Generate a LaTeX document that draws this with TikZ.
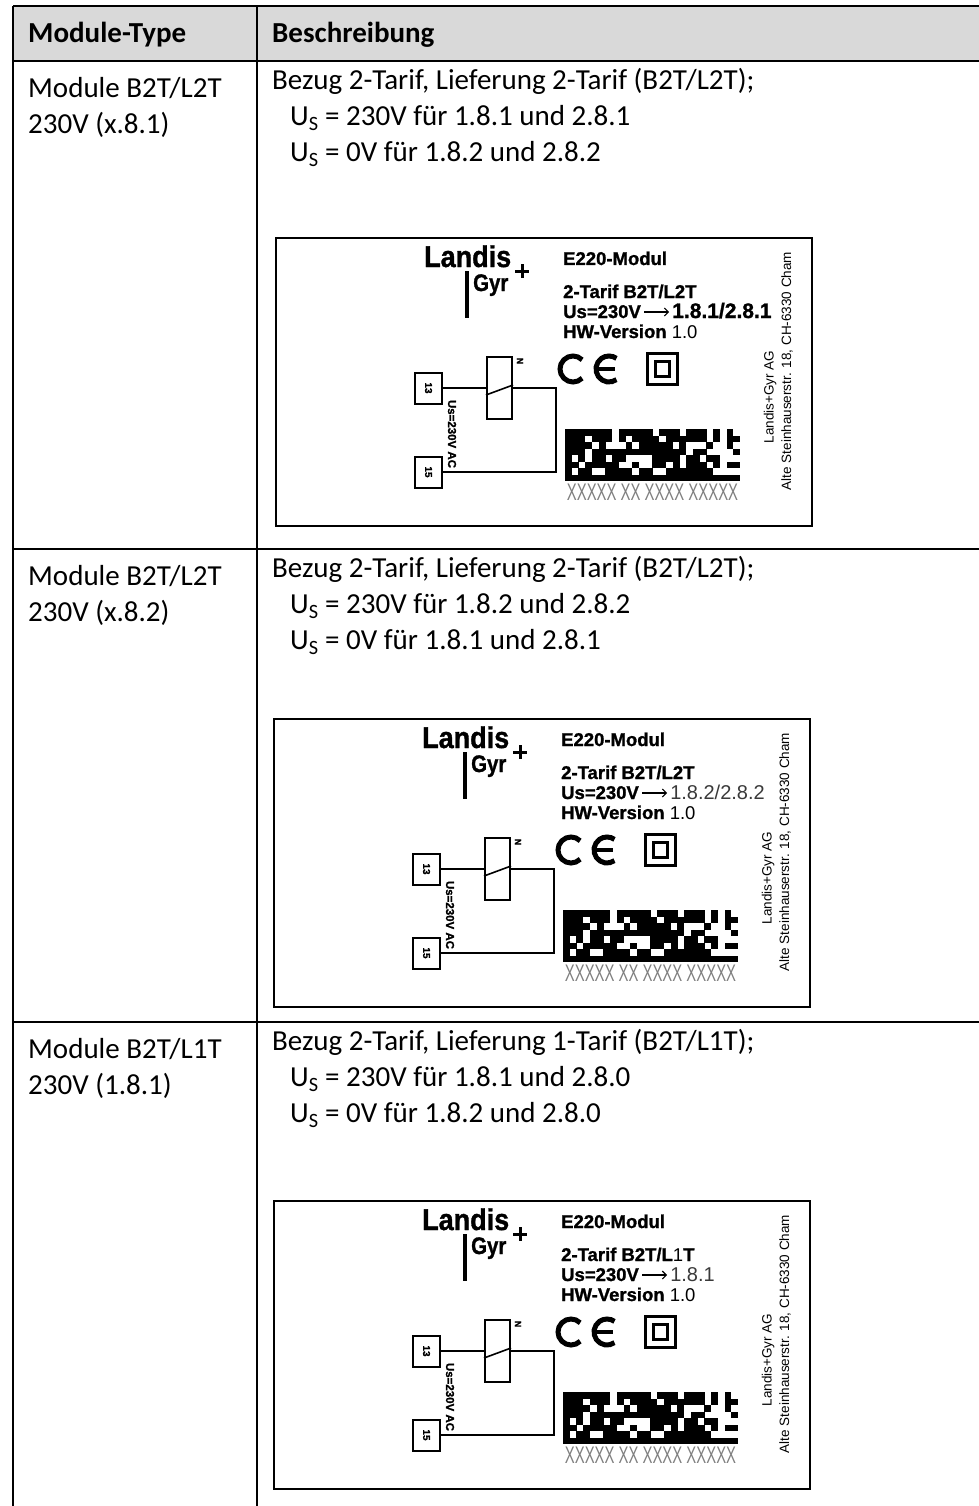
\documentclass[tikz,border=0pt]{standalone}
\usepackage{fontspec}
\setmainfont{Carlito}
\newfontfamily\labelfont{Liberation Sans}[BoldFeatures={FakeBold=1.2}]
\usetikzlibrary{positioning,arrows.meta}

\definecolor{headgray}{HTML}{D9D9D9}
\definecolor{valgray}{HTML}{3A3A3A}

\tikzset{
  tableline/.style={line width=1.5pt},
  celltext/.style={anchor=base west, inner sep=0pt, font=\fontsize{29}{34}\selectfont},
  headtext/.style={anchor=base west, inner sep=0pt, font=\fontsize{29}{34}\selectfont\bfseries},
  cardline/.style={line width=2.5pt},
  wire/.style={line width=1.6pt},
  terminal/.style={draw, line width=2pt, minimum width=27pt, minimum height=31pt, inner sep=0pt,
    font=\labelfont\bfseries\fontsize{10}{10}\selectfont},
  coilbox/.style={draw, line width=2pt, minimum width=25pt, minimum height=62pt, inner sep=0pt},
  cardtext/.style={anchor=base west, inner sep=0pt, font=\labelfont\bfseries\fontsize{18.5}{18.5}\selectfont},
  sidetext/.style={rotate=90, inner sep=0pt, font=\labelfont\fontsize{13.5}{13.5}\selectfont},
  maps/.style={line width=1.1pt, -{Straight Barb[length=4pt, width=8pt, line width=1.1pt]}},
}

\newcommand{\typecard}[4]{%
\begin{scope}[shift={(#1)}, name prefix=#2-]
  \draw[cardline] (0,0) rectangle (536,288);
  \node[anchor=base west, inner sep=0pt, xscale=0.9, font=\labelfont\bfseries\fontsize{30}{30}\selectfont] (landis) at (148,29) {Landis};
  \node[anchor=base west, inner sep=0pt, xscale=0.85, font=\labelfont\bfseries\fontsize{24}{24}\selectfont] (gyr) at (197,53) {Gyr};
  \draw[line width=4pt] (191,33) -- (191,80);
  \draw[line width=3pt] (239,33) -- (253,33) (246,26) -- (246,40);
  \node[terminal] (t13) at (152.5,150) {\rotatebox{-90}{13}};
  \node[terminal] (t15) at (152.5,234) {\rotatebox{-90}{15}};
  \node[coilbox] (coil) at (223.5,150) {};
  \draw[wire] ([yshift=-7pt]coil.west) -- ([yshift=3pt]coil.east);
  \node[rotate=-90, inner sep=0pt, font=\labelfont\bfseries\fontsize{9}{9}\selectfont] (n) at (244,123) {N};
  \coordinate (jn) at (280,190);
  \draw[wire] (t13.east) -- (coil.west);
  \draw[wire] (coil.east) -| (jn) |- (t15.east);
  \node[rotate=-90, inner sep=0pt, font=\labelfont\bfseries\fontsize{11.5}{11.5}\selectfont] (usac) at (176,196) {Us=230V AC};
  \node[cardtext] (modul) at (287,27) {E220-Modul};
  \node[cardtext] (tarif) at (287,60) {2-Tarif #3};
  \node[cardtext] (us) at (287,80) {Us=230V};
  \node[cardtext, right=31pt of us.base east, anchor=base west] (target) {#4};
  \draw[maps] ([xshift=3pt, yshift=6pt]us.base east) -- ([xshift=-3pt, yshift=6pt]target.base west);
  \node[cardtext] (hw) at (287,100) {HW-Version {\mdseries 1.0}};
  \draw[line width=5pt] (297,131) ++(45:13) arc[start angle=45, end angle=315, radius=13];
  \draw[line width=5pt] (333,131) ++(55:13) arc[start angle=55, end angle=305, radius=13];
  \draw[line width=4pt] (320,131) -- (339,131);
  \draw[line width=3pt] (371,115) rectangle (401,146);
  \draw[line width=3pt] (379,123) rectangle (393,138);
  \pgfmathsetseed{11}
  \foreach \i in {0,...,25}{
    \foreach \j in {0,...,7}{
      \pgfmathrandominteger{\bit}{0}{99}
      \pgfmathtruncatemacro{\dm}{(\j==7)||(\i==0)||((\j==0)&&(mod(\i,2)==0))||((\i==25)&&(mod(\j,2)==1))||(\bit<68)}
      \ifnum\dm=1 \fill (289+\i*6.73,191+\j*6.5) rectangle ++(6.9,6.7);\fi
    }}
  \node[inner sep=0pt, xscale=0.62, text=gray, font=\labelfont\fontsize{24}{24}\selectfont] (serial) at (376.5,254) {XXXXX XX XXXX XXXXX};
  \node[sidetext] (firm) at (494,159) {Landis+Gyr AG};
  \node[sidetext] (addr) at (511,133) {Alte Steinhauserstr. 18, CH-6330 Cham};
\end{scope}}

\begin{document}
\begin{tikzpicture}[x=1pt, y=-1pt]
  \useasboundingbox (0,0) rectangle (979,1506);
  \fill[headgray] (13,6) rectangle (979,61);
  \draw[tableline] (13,6) -- (979,6) (13,61) -- (979,61) (13,549) -- (979,549) (13,1022) -- (979,1022);
  \draw[tableline] (13,6) -- (13,1506) (257,6) -- (257,1506);

  \node[headtext] (htype) at (28,43) {Module-Type};
  \node[headtext] (hdesc) at (272,43) {Beschreibung};

  \node[celltext] (type1) at (28,97.5) {Module B2T/L2T};
  \node[celltext] (volt1) at (28,133.5) {230V (x.8.1)};
  \node[celltext] (desc1) at (272,90) {Bezug 2-Tarif, Lieferung 2-Tarif (B2T/L2T);};
  \node[celltext] (on1) at (290,126) {U\textsubscript{S} = 230V für 1.8.1 und 2.8.1};
  \node[celltext] (off1) at (290,162) {U\textsubscript{S} = 0V für 1.8.2 und 2.8.2};
  \typecard{276,238}{r1}{B2T/L2T}{{\fontsize{21}{21}\selectfont 1.8.1/2.8.1}}

  \node[celltext] (type2) at (28,585.5) {Module B2T/L2T};
  \node[celltext] (volt2) at (28,621.5) {230V (x.8.2)};
  \node[celltext] (desc2) at (272,577.5) {Bezug 2-Tarif, Lieferung 2-Tarif (B2T/L2T);};
  \node[celltext] (on2) at (290,613.5) {U\textsubscript{S} = 230V für 1.8.2 und 2.8.2};
  \node[celltext] (off2) at (290,649.5) {U\textsubscript{S} = 0V für 1.8.1 und 2.8.1};
  \typecard{274,719}{r2}{B2T/L2T}{{\mdseries\color{valgray}\fontsize{20}{20}\selectfont 1.8.2/2.8.2}}

  \node[celltext] (type3) at (28,1058.5) {Module B2T/L1T};
  \node[celltext] (volt3) at (28,1094.5) {230V (1.8.1)};
  \node[celltext] (desc3) at (272,1050.5) {Bezug 2-Tarif, Lieferung 1-Tarif (B2T/L1T);};
  \node[celltext] (on3) at (290,1086.5) {U\textsubscript{S} = 230V für 1.8.1 und 2.8.0};
  \node[celltext] (off3) at (290,1122.5) {U\textsubscript{S} = 0V für 1.8.2 und 2.8.0};
  \typecard{274,1201}{r3}{B2T/L{\mdseries 1}T}{{\mdseries\color{valgray}\fontsize{20}{20}\selectfont 1.8.1}}
\end{tikzpicture}
\end{document}
